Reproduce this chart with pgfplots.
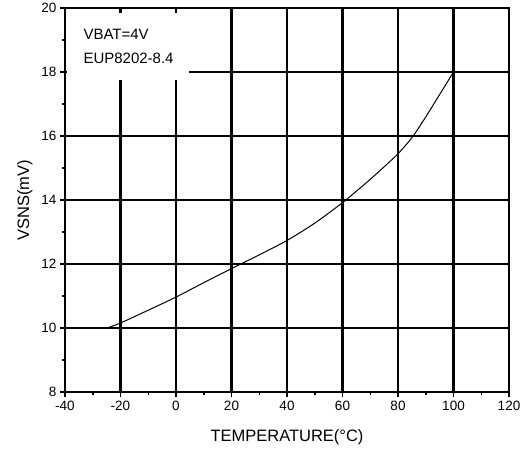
\documentclass[border=0pt]{standalone}
\usepackage{fontspec}
\setmainfont{Liberation Sans}
\usepackage{pgfplots}
\pgfplotsset{compat=1.18}
\begin{document}
\begin{tikzpicture}
\begin{axis}[
  scale only axis,
  width=444pt, height=384pt,
  xmin=-40, xmax=120, ymin=8, ymax=20,
  xtick={-40,-20,...,120}, ytick={8,10,...,20},
  minor x tick num=1, minor y tick num=1,
  tick align=outside,
  xtick pos=bottom, ytick pos=left,
  major tick length=5pt, minor tick length=3pt,
  every tick/.style={black, line width=1.5pt},
  grid=major,
  major grid style={black, line width=2.6pt},
  axis line style={line width=2.6pt},
  tick label style={font=\fontsize{13.5}{13.5}\selectfont},
  /pgf/number format/assume math mode=true,
  xlabel={TEMPERATURE(°C)}, ylabel={VSNS(mV)},
  label style={font=\fontsize{16.5}{16.5}\selectfont},
  xlabel style={yshift=-12pt},
  ylabel style={yshift=2pt},
]
\addplot[black, line width=1pt, smooth] coordinates {
  (-25,10.0) (-20,10.16) (-10,10.56) (0,10.97) (10,11.42) (20,11.86)
  (30,12.29) (40,12.74) (50,13.28) (60,13.92) (65,14.28) (70,14.65)
  (75,15.04) (80,15.45) (85,15.95) (90,16.6) (95,17.3) (100,18.0)
};
\fill[white] (axis cs:-39.4,19.85) rectangle (axis cs:4.7,17.75);
\node[anchor=base west, font=\fontsize{15}{15}\selectfont] at (axis cs:-34.6,19.03) {VBAT=4V};
\node[anchor=base west, font=\fontsize{15}{15}\selectfont] at (axis cs:-34.6,18.28) {EUP8202-8.4};
\end{axis}
\path (current axis.south west) ++(-65pt,-61pt) coordinate (bl);
\path (current axis.north east) ++(17pt,7pt) coordinate (tr);
\path[use as bounding box] (bl) rectangle (tr);
\end{tikzpicture}
\end{document}
